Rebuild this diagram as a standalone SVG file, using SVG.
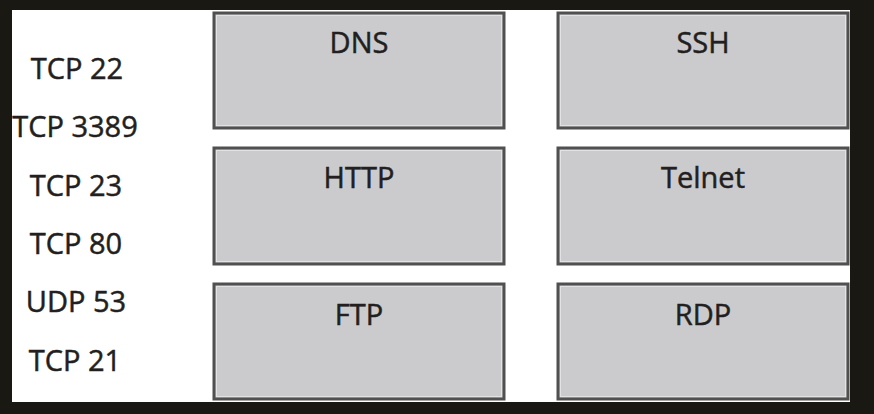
<svg xmlns="http://www.w3.org/2000/svg" width="874" height="414" viewBox="0 0 874 414">
  <style>
    .port, .name { font-family: "Open Sans", "Liberation Sans", sans-serif; font-size: 29px; fill: #231f20; stroke: #231f20; stroke-width: 0.5; text-anchor: middle; }
    .box { fill: #cbcbcd; stroke: #505050; stroke-width: 3; }
    .hl { fill: none; stroke: #e2e2e4; stroke-width: 1; }
  </style>
  <!-- frame -->
  <rect x="0" y="0" width="874" height="414" fill="#1a1812"/>
  <rect x="12" y="10" width="838" height="392" fill="#ffffff"/>

  <!-- port labels -->
  <g id="ports">
    <text class="port" x="77" y="79">TCP 22</text>
    <text class="port" x="75" y="137">TCP 3389</text>
    <text class="port" x="76" y="196">TCP 23</text>
    <text class="port" x="76" y="254">TCP 80</text>
    <text class="port" x="76" y="312">UDP 53</text>
    <text class="port" x="75" y="371">TCP 21</text>
  </g>

  <!-- protocol boxes -->
  <g id="dns">
    <rect class="box" x="214" y="13" width="290" height="115"/>
    <rect class="hl" x="216.5" y="15.5" width="285" height="110"/>
    <text class="name" x="359" y="53">DNS</text>
  </g>
  <g id="ssh">
    <rect class="box" x="558" y="13" width="290" height="115"/>
    <rect class="hl" x="560.5" y="15.5" width="285" height="110"/>
    <text class="name" x="703" y="53">SSH</text>
  </g>
  <g id="http">
    <rect class="box" x="214" y="148" width="290" height="116"/>
    <rect class="hl" x="216.5" y="150.5" width="285" height="111"/>
    <text class="name" x="359" y="188">HTTP</text>
  </g>
  <g id="telnet">
    <rect class="box" x="558" y="148" width="290" height="116"/>
    <rect class="hl" x="560.5" y="150.5" width="285" height="111"/>
    <text class="name" x="703" y="188">Telnet</text>
  </g>
  <g id="ftp">
    <rect class="box" x="214" y="284" width="290" height="115"/>
    <rect class="hl" x="216.5" y="286.5" width="285" height="110"/>
    <text class="name" x="359" y="325">FTP</text>
  </g>
  <g id="rdp">
    <rect class="box" x="558" y="284" width="290" height="115"/>
    <rect class="hl" x="560.5" y="286.5" width="285" height="110"/>
    <text class="name" x="703" y="325">RDP</text>
  </g>

  <g id="connectors"></g>
</svg>
